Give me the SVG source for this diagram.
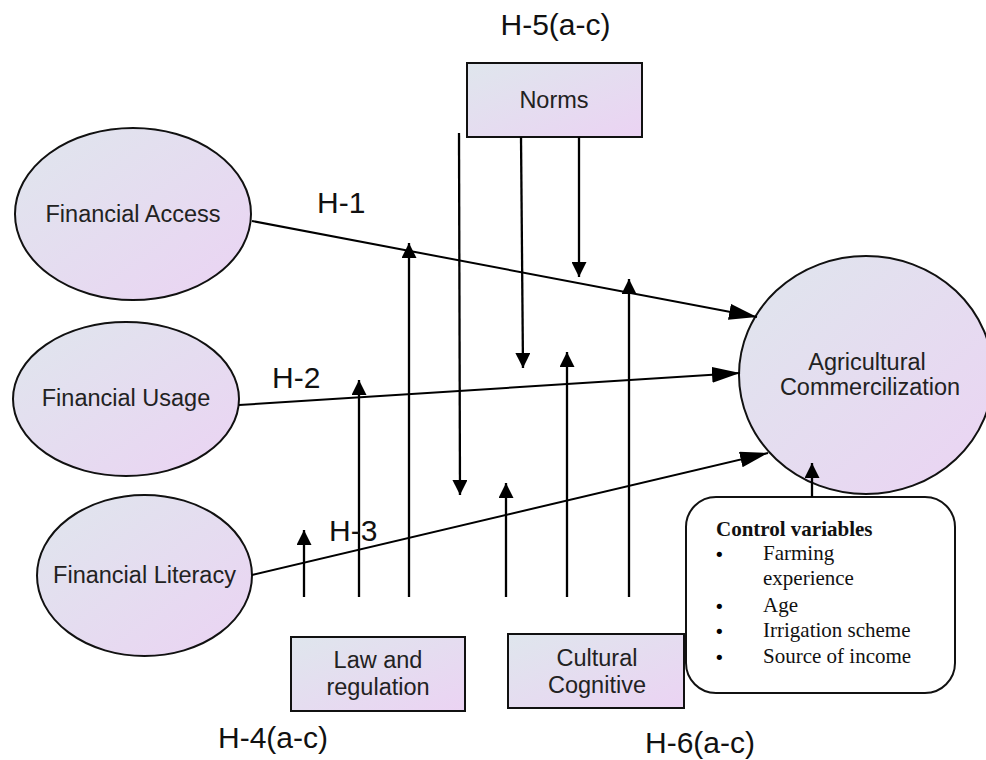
<svg xmlns="http://www.w3.org/2000/svg" width="986" height="760" viewBox="0 0 986 760">
  <style>
    .node { fill: url(#g); stroke: #111; stroke-width: 2; }
    .lbl { font-family: "Liberation Sans", Arial, sans-serif; font-size: 23.5px; fill: #222; text-anchor: middle; }
    .hyp { font-family: "Liberation Sans", Arial, sans-serif; font-size: 30px; fill: #111; }
    .conn { stroke: #000; stroke-width: 2; fill: none; }
    .vert { stroke: #000; stroke-width: 2.3; fill: none; }
    .ctl { font-family: "Liberation Serif", "Times New Roman", serif; font-size: 21px; fill: #111; }
    .bul { font-family: "DejaVu Sans", sans-serif; font-size: 18px; fill: #000; }
  </style>
  <defs>
    <linearGradient id="g" x1="0" y1="0" x2="1" y2="1">
      <stop offset="0" stop-color="#dfe6ed"/>
      <stop offset="1" stop-color="#ebd3f3"/>
    </linearGradient>
    <marker id="big" markerUnits="userSpaceOnUse" viewBox="0 0 28 16" refX="28" refY="8" markerWidth="28" markerHeight="16" orient="auto">
      <path d="M0,0 L28,8 L0,16 z" fill="#000"/>
    </marker>
    <marker id="small" markerUnits="userSpaceOnUse" viewBox="0 0 15 15" refX="15" refY="7.5" markerWidth="15" markerHeight="15" orient="auto">
      <path d="M0,0 L15,7.5 L0,15 z" fill="#000"/>
    </marker>
  </defs>

  <g id="financial-access">
    <ellipse class="node" cx="133" cy="214" rx="118" ry="86"/>
    <text class="lbl" x="133" y="222">Financial Access</text>
  </g>
  <g id="financial-usage">
    <ellipse class="node" cx="126" cy="399" rx="113" ry="77"/>
    <text class="lbl" x="126" y="406">Financial Usage</text>
  </g>
  <g id="financial-literacy">
    <ellipse class="node" cx="144.5" cy="575.5" rx="107.5" ry="80.5"/>
    <text class="lbl" x="144.5" y="583">Financial Literacy</text>
  </g>
  <g id="agricultural-commercialization">
    <ellipse class="node" cx="866" cy="375" rx="127" ry="119"/>
    <text class="lbl" x="867" y="370">Agricultural</text>
    <text class="lbl" x="870" y="395">Commercilization</text>
  </g>
  <g id="norms">
    <rect class="node" x="467" y="63" width="175" height="74"/>
    <text class="lbl" x="554" y="108">Norms</text>
  </g>
  <g id="law-and-regulation">
    <rect class="node" x="291" y="637" width="174" height="74"/>
    <text class="lbl" x="378" y="668">Law and</text>
    <text class="lbl" x="378" y="695">regulation</text>
  </g>
  <g id="cultural-cognitive">
    <rect class="node" x="508" y="634" width="176" height="74"/>
    <text class="lbl" x="597" y="666">Cultural</text>
    <text class="lbl" x="597" y="693">Cognitive</text>
  </g>
  <g id="control-variables">
    <rect x="686" y="497" width="269" height="196" rx="30" ry="30" fill="#fff" stroke="#111" stroke-width="2"/>
    <text class="ctl" x="716" y="536" font-weight="bold">Control variables</text>
    <text class="bul" x="714" y="561">•</text>
    <text class="ctl" x="763" y="560">Farming</text>
    <text class="ctl" x="763" y="585">experience</text>
    <text class="bul" x="714" y="613">•</text>
    <text class="ctl" x="763" y="612">Age</text>
    <text class="bul" x="714" y="638">•</text>
    <text class="ctl" x="763" y="637">Irrigation scheme</text>
    <text class="bul" x="714" y="664">•</text>
    <text class="ctl" x="763" y="663">Source of income</text>
  </g>

  <g id="connectors">
    <line class="conn" x1="252" y1="221" x2="757" y2="317" marker-end="url(#big)"/>
    <line class="conn" x1="239" y1="405" x2="740" y2="373" marker-end="url(#big)"/>
    <line class="conn" x1="252" y1="575" x2="768" y2="453" marker-end="url(#big)"/>

    <line class="vert" x1="304" y1="597" x2="304" y2="530" marker-end="url(#small)"/>
    <line class="vert" x1="359" y1="597" x2="359" y2="380" marker-end="url(#small)"/>
    <line class="vert" x1="409" y1="597" x2="409" y2="243" marker-end="url(#small)"/>
    <line class="vert" x1="506" y1="597" x2="506" y2="483" marker-end="url(#small)"/>
    <line class="vert" x1="567" y1="597" x2="567" y2="352" marker-end="url(#small)"/>
    <line class="vert" x1="629" y1="597" x2="629" y2="279" marker-end="url(#small)"/>

    <line class="vert" x1="459" y1="133" x2="460" y2="495" marker-end="url(#small)"/>
    <line class="vert" x1="521" y1="137" x2="523" y2="368" marker-end="url(#small)"/>
    <line class="vert" x1="579" y1="137" x2="579" y2="277" marker-end="url(#small)"/>

    <line class="vert" x1="812" y1="497" x2="812" y2="463" marker-end="url(#small)"/>
  </g>

  <g id="labels">
    <text class="hyp" x="555.5" y="35" text-anchor="middle">H-5(a-c)</text>
    <text class="hyp" x="317" y="213">H-1</text>
    <text class="hyp" x="272" y="388">H-2</text>
    <text class="hyp" x="329" y="541">H-3</text>
    <text class="hyp" x="273" y="748" text-anchor="middle">H-4(a-c)</text>
    <text class="hyp" x="700" y="753" text-anchor="middle">H-6(a-c)</text>
  </g>
</svg>
